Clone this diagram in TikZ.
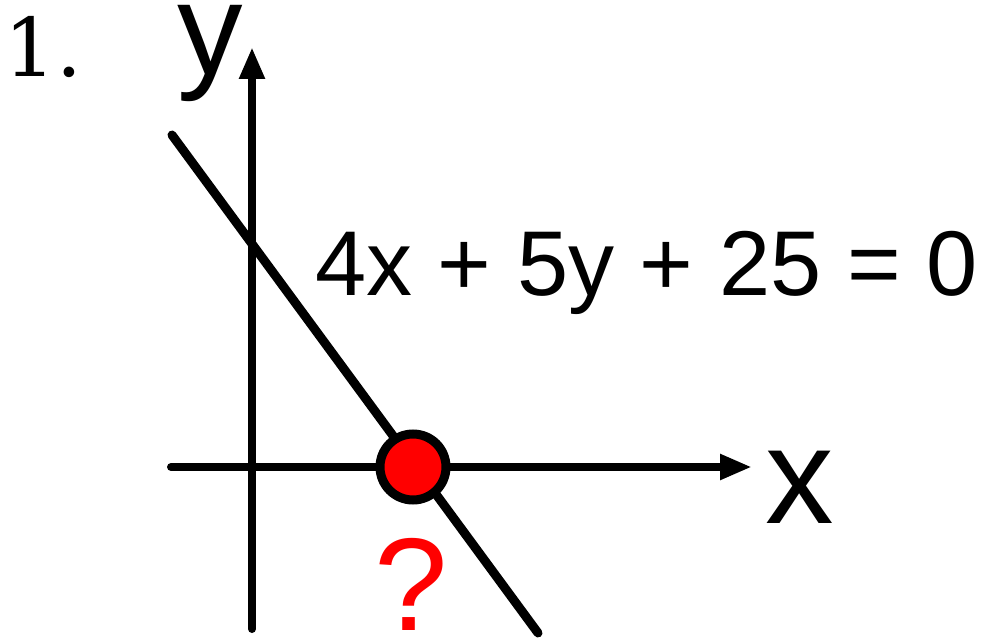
\documentclass[tikz,border=0pt]{standalone}
\usepackage{fontspec}
\newfontfamily\arialf{Liberation Sans}
\newfontfamily\serifnum{DejaVu Serif}
\usetikzlibrary{arrows.meta}
\definecolor{pured}{RGB}{255,0,0}
\tikzset{
  axis/.style={line width=8pt, line cap=round, -{Triangle[length=32pt,width=24pt]}},
  graphline/.style={line width=9pt, line cap=round},
  dot/.style={circle, fill=pured, draw=black, line width=9pt, minimum size=66pt, inner sep=0pt},
  lbl/.style={inner sep=0pt, font=\arialf\fontsize{137}{137}\selectfont},
}
\begin{document}
\begin{tikzpicture}[x=1pt,y=-1pt]
\useasboundingbox (0,0) rectangle (984,644);
% axes
\coordinate (ybot) at (252,629);
\coordinate (ytop) at (252,47);
\coordinate (xleft) at (171,467);
\coordinate (xright) at (752,467);
\coordinate (lstart) at (172,135);
\coordinate (lend) at (538,633);
\draw[axis] (ybot) -- (ytop);
\draw[axis] (xleft) -- (xright);
\draw[graphline] (lstart) -- (lend);
\node[dot] (pt) at (413,467) {};
\node[anchor=base west, inner sep=0pt, font=\serifnum\fontsize{81}{81}\selectfont] (num) at (4.5,77) {1.};
\node[lbl, anchor=base, font=\arialf\fontsize{131}{131}\selectfont] (ylab) at (210,75) {y};
\node[lbl, anchor=base] (xlab) at (800,523) {x};
\node[anchor=base west, inner sep=0pt, font=\arialf\fontsize{92}{92}\selectfont] (eq) at (315,295) {4x + 5y + 25 = 0};
\node[lbl, anchor=base, text=pured, font=\arialf\fontsize{132}{132}\selectfont] (q) at (411,630) {?};
\end{tikzpicture}
\end{document}
